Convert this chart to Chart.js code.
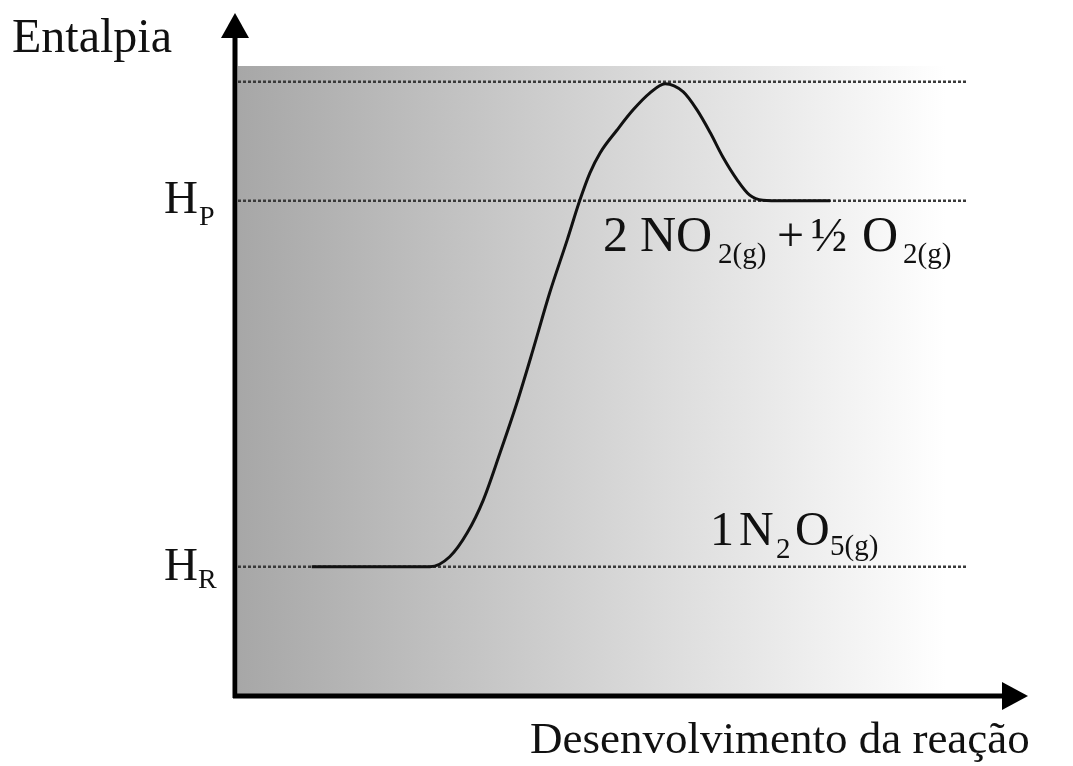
<!DOCTYPE html>
<html>
<head>
<meta charset="utf-8">
<title>Entalpia</title>
<script src="https://cdn.jsdelivr.net/npm/chart.js@4.4.1/dist/chart.umd.min.js"></script>
<style>
  html, body { margin: 0; padding: 0; background: #fff; }
  #wrap { width: 1073px; height: 766px; }
</style>
</head>
<body>
<div id="wrap"><canvas id="diagram" width="1073" height="766"></canvas></div>
<script>
// Dados (escala 0-100 nos dois eixos)
const reactionX = [10.1, 26.3, 29.0, 31.4, 33.6, 35.9, 38.2, 40.4, 42.7, 45.1, 46.8, 48.2, 49.6, 51.9, 54.1, 56.4, 58.5, 61.0, 62.9, 64.7, 66.4, 68.4, 70.1, 71.9, 74.7, 81.1];
const enthalpyY = [20.5, 20.5, 22.1, 25.9, 31.1, 38.6, 46.5, 54.9, 64.0, 72.4, 78.6, 83.0, 86.2, 89.8, 93.0, 95.7, 97.2, 95.9, 93.0, 89.4, 85.6, 81.9, 79.5, 78.7, 78.6, 78.6];

const levelNames = ["Ea", "HP", "HR"];
const levelValues = [97.5, 78.6, 20.5];

const xTitle = "Desenvolvimento da reação";
const yTitle = "Entalpia";

const serif = '"Liberation Serif", "Times New Roman", serif';

// desenha pedaços de texto (com índices) em posições dadas
function drawRuns(ctx, runs) {
    runs.forEach(r => {
        ctx.font = r.size + "px " + serif;
        ctx.fillText(r.t, r.x, r.y);
    });
}

const backgroundPlugin = {
    id: "fundo",
    beforeDraw(chart) {
        const { ctx, chartArea: a } = chart;
        const g = ctx.createLinearGradient(a.left, 0, a.right, 0);
        g.addColorStop(0, "#a7a7a7");
        g.addColorStop(0.97, "#ffffff");
        g.addColorStop(1, "#ffffff");
        ctx.save();
        ctx.fillStyle = g;
        ctx.fillRect(a.left, a.top, a.right - a.left, a.bottom - a.top);
        ctx.restore();
    }
};

const axesPlugin = {
    id: "eixos",
    afterDraw(chart) {
        const { ctx, chartArea: a } = chart;
        const ys = chart.scales.y;
        const ax = a.left - 3;
        const ay = a.bottom;
        ctx.save();
        ctx.strokeStyle = "#000";
        ctx.fillStyle = "#000";
        ctx.lineWidth = 5;
        // eixo y
        ctx.beginPath();
        ctx.moveTo(ax, ay + 2);
        ctx.lineTo(ax, 36);
        ctx.stroke();
        ctx.beginPath();
        ctx.moveTo(ax, 13);
        ctx.lineTo(ax - 14, 38);
        ctx.lineTo(ax + 14, 38);
        ctx.closePath();
        ctx.fill();
        // eixo x
        ctx.beginPath();
        ctx.moveTo(ax - 2, ay);
        ctx.lineTo(1005, ay);
        ctx.stroke();
        ctx.beginPath();
        ctx.moveTo(1028, ay);
        ctx.lineTo(1002, ay - 14);
        ctx.lineTo(1002, ay + 14);
        ctx.closePath();
        ctx.fill();

        ctx.fillStyle = "#111";
        ctx.textBaseline = "alphabetic";
        ctx.textAlign = "left";
        drawRuns(ctx, [{ t: yTitle, size: 48, x: 12, y: 52 }]);
        drawRuns(ctx, [{ t: xTitle, size: 45, x: 530, y: 753 }]);

        const hp = ys.getPixelForValue(levelValues[1]);
        const hr = ys.getPixelForValue(levelValues[2]);
        drawRuns(ctx, [
            { t: "H", size: 47, x: 164, y: hp + 12 },
            { t: "P", size: 28, x: 199, y: hp + 24 },
            { t: "H", size: 47, x: 164, y: hr + 13 },
            { t: "R", size: 28, x: 198, y: hr + 21 }
        ]);
        // produtos
        const pb = hp + 50;
        drawRuns(ctx, [
            { t: "2", size: 50, x: 603, y: pb },
            { t: "NO", size: 50, x: 640, y: pb },
            { t: "2(g)", size: 29, x: 718, y: pb + 12 },
            { t: "+", size: 48, x: 777, y: pb },
            { t: "½", size: 48, x: 811, y: pb },
            { t: "O", size: 50, x: 862, y: pb },
            { t: "2(g)", size: 29, x: 903, y: pb + 12 }
        ]);
        // reagente
        const rb = hr - 22;
        drawRuns(ctx, [
            { t: "1", size: 48, x: 710, y: rb },
            { t: "N", size: 48, x: 739, y: rb },
            { t: "2", size: 29, x: 776, y: rb + 13 },
            { t: "O", size: 48, x: 795, y: rb },
            { t: "5(g)", size: 29, x: 830, y: rb + 10 }
        ]);
        ctx.restore();
    }
};

function levelDataset(i) {
    return {
        label: levelNames[i],
        data: [{ x: 0, y: levelValues[i] }, { x: 100, y: levelValues[i] }],
        showLine: true,
        borderColor: "#3a3a3a",
        borderWidth: 2.5,
        borderDash: [3, 2],
        pointRadius: 0
    };
}

function initDiagram() {
    const ctx = document.getElementById("diagram").getContext("2d");
    new Chart(ctx, {
        type: "scatter",
        data: {
            datasets: [{
                label: "Reação",
                data: reactionX.map((x, i) => ({ x: x, y: enthalpyY[i] })),
                showLine: true,
                borderColor: "#111",
                borderWidth: 3,
                pointRadius: 0,
                cubicInterpolationMode: "monotone"
            }, levelDataset(0), levelDataset(1), levelDataset(2)]
        },
        options: {
            responsive: false,
            animation: false,
            devicePixelRatio: 1,
            layout: { padding: { left: 238, right: 105, top: 66, bottom: 70 } },
            plugins: {
                legend: { display: false },
                tooltip: { enabled: false }
            },
            scales: {
                x: { type: "linear", min: 0, max: 100, display: false },
                y: { type: "linear", min: 0, max: 100, display: false }
            }
        },
        plugins: [backgroundPlugin, axesPlugin]
    });
}

window.onload = initDiagram;
</script>
</body>
</html>
